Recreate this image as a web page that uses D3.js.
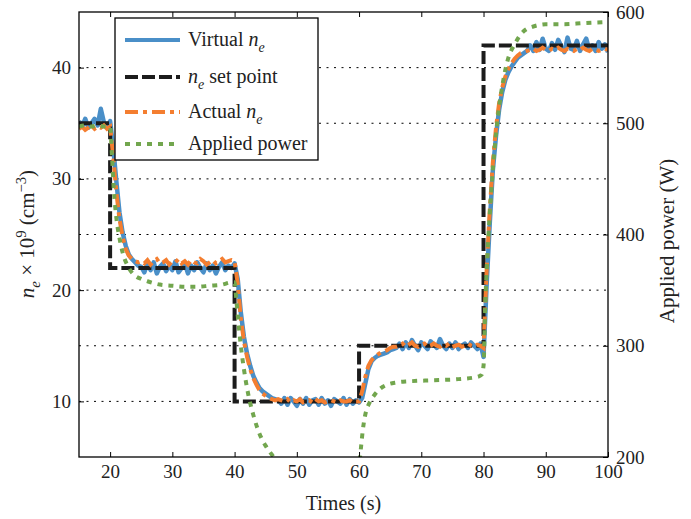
<!DOCTYPE html>
<html>
<head>
<meta charset="utf-8">
<script src="https://cdn.jsdelivr.net/npm/d3@7"></script>
<style>
  body { margin: 0; background: #fff; }
  svg text { font-family: "Liberation Serif", "DejaVu Serif", serif; fill: #222; }
</style>
</head>
<body>
<svg id="chart"></svg>
<script>
// sample grid of the density traces (every 0.5 s)
const sampleTimes = d3.range(15, 100.001, 0.5);

// virtual n_e (x 1e9 cm^-3)
const virtualNe = [
  // 15 - 20
  35.2, 34.7, 35.4, 34.6, 35.0, 35.4, 34.8, 36.3, 35.1, 34.7, 35.2,
  // 20.5 - 25
  32.8, 29.8, 27.0, 25.2, 24.0, 23.2, 22.8, 22.5, 22.2, 22.1,
  // 25.5 - 40
  21.6, 22.4, 21.8, 22.5, 21.5, 22.1, 22.4, 21.7, 22.2, 21.8,
  22.6, 21.6, 22.0, 22.4, 21.5, 22.2, 21.8, 22.5, 22.0, 21.6,
  22.4, 21.8, 22.2, 21.5, 22.1, 22.5, 21.8, 22.2, 22.0, 22.4,
  // 40.5 - 47
  21.0, 18.0, 15.8, 14.3, 13.2, 12.3, 11.7, 11.2, 10.9, 10.7, 10.5, 10.3, 10.2, 10.1,
  // 47.5 - 60
  9.8, 10.3, 9.7, 10.3, 10.0, 9.6, 10.2, 9.8, 10.3, 9.7,
  10.1, 10.2, 9.7, 10.3, 9.8, 10.1, 9.6, 10.2, 10.0, 9.8,
  10.3, 9.7, 10.2, 9.8, 10.1, 9.9,
  // 60.5 - 66
  10.3, 11.6, 12.9, 13.6, 13.9, 14.1, 14.2, 14.3, 14.4, 14.6, 14.7, 14.8,
  // 66.5 - 80
  15.2, 14.7, 15.3, 14.8, 15.5, 15.0, 14.6, 15.3, 15.0, 14.7,
  15.4, 15.1, 14.8, 15.6, 15.0, 14.7, 15.2, 14.8, 15.3, 14.7,
  15.0, 15.2, 14.8, 15.3, 15.0, 14.7, 15.2, 14.0,
  // 80.5 - 87
  20.5, 26.0, 30.8, 33.8, 36.2, 37.8, 38.9, 39.6, 40.1, 40.5, 40.9, 41.1, 41.3, 41.5,
  // 87.5 - 100
  42.0, 41.5, 42.3, 41.6, 42.6, 41.7, 41.5, 42.2, 41.6, 42.5,
  41.9, 41.4, 42.7, 41.7, 41.6, 42.4, 41.5, 42.1, 42.6, 41.6,
  42.0, 41.5, 42.3, 41.7, 42.1, 41.4
];

// actual n_e
const actualNe = [
  34.5, 34.7, 34.4, 34.6, 34.8, 34.5, 34.7, 34.6, 34.8, 34.5, 34.7,
  32.0, 28.8, 26.4, 24.8, 23.7, 23.1, 22.8, 22.6, 22.5, 22.6,
  22.4, 22.7, 22.3, 22.6, 22.8, 22.4, 22.5, 22.7, 22.3, 22.6,
  22.5, 22.8, 22.4, 22.6, 22.3, 22.7, 22.5, 22.4, 22.8, 22.6,
  22.3, 22.5, 22.7, 22.4, 22.6, 22.8, 22.5, 22.6, 22.7, 22.6,
  20.6, 17.5, 15.4, 14.0, 12.9, 12.1, 11.5, 11.0, 10.7, 10.5, 10.3, 10.2, 10.1, 10.2,
  10.1, 10.0, 10.2, 9.9, 10.1, 10.0, 10.2, 9.9, 10.0, 10.1,
  9.9, 10.2, 10.0, 10.1, 9.9, 10.0, 10.1, 10.0, 9.9, 10.1,
  10.0, 10.0, 10.1, 9.9, 10.0, 10.0,
  10.9, 12.2, 13.2, 13.7, 14.0, 14.2, 14.4, 14.5, 14.6, 14.8, 14.9, 14.9,
  15.0, 15.2, 14.9, 15.1, 15.3, 15.0, 14.9, 15.1, 15.2, 14.9,
  15.0, 15.2, 15.0, 14.9, 15.1, 15.0, 15.2, 14.9, 15.0, 15.1,
  14.9, 15.0, 15.2, 15.0, 14.9, 15.1, 15.0, 14.8,
  21.8, 27.2, 31.5, 34.6, 36.8, 38.2, 39.2, 39.9, 40.4, 40.8, 41.1, 41.3, 41.4, 41.5,
  41.6, 41.7, 41.5, 41.6, 41.8, 41.6, 41.5, 41.7, 41.6, 41.8,
  41.6, 41.5, 41.7, 41.6, 41.5, 41.7, 41.6, 41.8, 41.6, 41.5,
  41.7, 41.6, 41.5, 41.6, 41.7, 41.6
];

// set point steps
const setTimes = [15, 20, 40, 60, 80, 100];
const setValues = [35, 22, 10, 15, 42, 42];

// applied power (W), right axis
const powerTimes = [15, 16, 17, 18, 19, 20, 20.3, 20.6, 21, 21.5, 22, 23, 24, 25, 26, 28, 30, 32, 34, 36, 38, 39.5, 40,
  40.3, 40.6, 41, 41.5, 42, 43, 44, 45, 46, 47, 48, 52, 56, 59.5, 60, 60.3, 60.6, 61, 61.7, 62.5, 63.3, 64.5, 66, 68,
  72, 76, 79, 79.7, 80, 80.3, 80.6, 81, 81.4, 82, 82.5, 83, 83.5, 84, 85, 86, 87, 88, 90, 93, 96, 100];
const powerValues = [497, 498, 497, 498, 497, 497, 470, 440, 415, 397, 384, 370, 363, 360, 358, 355, 354, 353, 353, 354, 355, 357, 357,
  340, 322, 300, 279, 262, 238, 221, 210, 202, 195, 190, 185, 183, 183, 192, 208, 224, 238, 249, 256, 261, 265, 267, 268,
  269, 270, 272, 274, 282, 340, 379, 418, 451, 490, 515, 533, 548, 559, 571, 580, 585, 587, 589, 589, 590, 591];

const xTicks = [20, 30, 40, 50, 60, 70, 80, 90, 100];
const leftTicks = [10, 20, 30, 40];
const rightTicks = [200, 300, 400, 500, 600];

const W = 691, H = 519;
const margin = { top: 12, right: 83, bottom: 62, left: 79 };
const iw = W - margin.left - margin.right;
const ih = H - margin.top - margin.bottom;

const colors = { virtual: '#4a8fc8', set: '#1c1c1c', actual: '#f47e30', power: '#72a64e' };
const dashes = { virtual: null, set: '13,4', actual: '13,5,4,5', power: '5,6' };

const svg = d3.select('#chart').attr('width', W).attr('height', H);
const g = svg.append('g').attr('transform', `translate(${margin.left},${margin.top})`);

const x = d3.scaleLinear().domain([15, 100]).range([0, iw]);
const y = d3.scaleLinear().domain([5, 45]).range([ih, 0]);
const y2 = d3.scaleLinear().domain([200, 600]).range([ih, 0]);

// dotted grid lines (left ticks and right ticks)
const gridYs = leftTicks.map(y).concat(rightTicks.slice(1, -1).map(y2));
g.append('g').selectAll('line').data(gridYs).enter().append('line')
  .attr('x1', 0).attr('x2', iw).attr('y1', d => d).attr('y2', d => d)
  .attr('stroke', '#000').attr('stroke-width', 1).attr('stroke-dasharray', '2,5.5');

g.append('clipPath').attr('id', 'clip').append('rect').attr('width', iw).attr('height', ih);
const plot = g.append('g').attr('clip-path', 'url(#clip)');

const neLine = d3.line().x((d, i) => x(sampleTimes[i])).y(d => y(d));

plot.append('path').datum(virtualNe).attr('d', neLine)
  .attr('fill', 'none').attr('stroke', colors.virtual).attr('stroke-width', 4.5).attr('stroke-linejoin', 'round');

plot.append('path').datum(setValues)
  .attr('d', d3.line().curve(d3.curveStepAfter).x((d, i) => x(setTimes[i])).y(d => y(d)))
  .attr('fill', 'none').attr('stroke', colors.set).attr('stroke-width', 4).attr('stroke-dasharray', dashes.set);

plot.append('path').datum(actualNe).attr('d', neLine)
  .attr('fill', 'none').attr('stroke', colors.actual).attr('stroke-width', 4).attr('stroke-dasharray', dashes.actual);

plot.append('path').datum(powerValues)
  .attr('d', d3.line().curve(d3.curveMonotoneX).x((d, i) => x(powerTimes[i])).y(d => y2(d)))
  .attr('fill', 'none').attr('stroke', colors.power).attr('stroke-width', 4).attr('stroke-dasharray', dashes.power);

// axes, ticks pointing inward
function styleAxis(sel) {
  sel.select('.domain').remove();
  sel.selectAll('.tick line').attr('stroke', '#000').attr('stroke-width', 1);
  sel.selectAll('.tick text').attr('font-size', 19).attr('fill', '#222');
}
g.append('g').attr('transform', `translate(0,${ih})`)
  .call(d3.axisBottom(x).tickValues(xTicks).tickSize(-5).tickPadding(8)).call(styleAxis);
g.append('g')
  .call(d3.axisTop(x).tickValues(xTicks).tickSize(-5).tickFormat('')).call(styleAxis);
g.append('g')
  .call(d3.axisLeft(y).tickValues(leftTicks).tickSize(-5).tickPadding(8)).call(styleAxis);
g.append('g').attr('transform', `translate(${iw},0)`)
  .call(d3.axisRight(y2).tickValues(rightTicks).tickSize(-5).tickPadding(8)).call(styleAxis);

g.append('rect').attr('width', iw).attr('height', ih)
  .attr('fill', 'none').attr('stroke', '#000').attr('stroke-width', 1.3);

// text with sub/superscripts
function richText(sel, parts, size) {
  let shift = 0;
  parts.forEach(p => {
    const target = p.sub ? size * 0.3 : p.sup ? -size * 0.4 : 0;
    const ts = sel.append('tspan').text(p.t).attr('dy', target - shift);
    if (p.sub || p.sup) ts.attr('font-size', size * 0.7);
    if (p.it) ts.attr('font-style', 'italic');
    shift = target;
  });
}

svg.append('text').attr('x', margin.left + iw / 2).attr('y', 510)
  .attr('text-anchor', 'middle').attr('font-size', 20).text('Times (s)');

const yl = svg.append('text').attr('transform', 'translate(34,234) rotate(-90)')
  .attr('text-anchor', 'middle').attr('font-size', 21);
richText(yl, [{ t: 'n', it: true }, { t: 'e', it: true, sub: true }, { t: ' × 10' }, { t: '9', sup: true },
  { t: ' (cm' }, { t: '−3', sup: true }, { t: ')' }], 21);

svg.append('text').attr('transform', 'translate(674,241) rotate(-90)')
  .attr('text-anchor', 'middle').attr('font-size', 21).text('Applied power (W)');

// legend
const legend = svg.append('g');
legend.append('rect').attr('x', 115).attr('y', 18).attr('width', 203).attr('height', 142)
  .attr('fill', '#fff').attr('stroke', '#000').attr('stroke-width', 1.3);
const legendItems = [
  { key: 'virtual', y: 40, parts: [{ t: 'Virtual ' }, { t: 'n', it: true }, { t: 'e', it: true, sub: true }] },
  { key: 'set', y: 77, parts: [{ t: 'n', it: true }, { t: 'e', it: true, sub: true }, { t: ' set point' }] },
  { key: 'actual', y: 112, parts: [{ t: 'Actual ' }, { t: 'n', it: true }, { t: 'e', it: true, sub: true }] },
  { key: 'power', y: 144, parts: [{ t: 'Applied power' }] }
];
legendItems.forEach(item => {
  legend.append('line').attr('x1', 125).attr('x2', 180).attr('y1', item.y).attr('y2', item.y)
    .attr('stroke', colors[item.key]).attr('stroke-width', 4)
    .attr('stroke-dasharray', dashes[item.key]);
  const t = legend.append('text').attr('x', 188).attr('y', item.y + 6).attr('font-size', 20);
  richText(t, item.parts, 20);
});
</script>
</body>
</html>
